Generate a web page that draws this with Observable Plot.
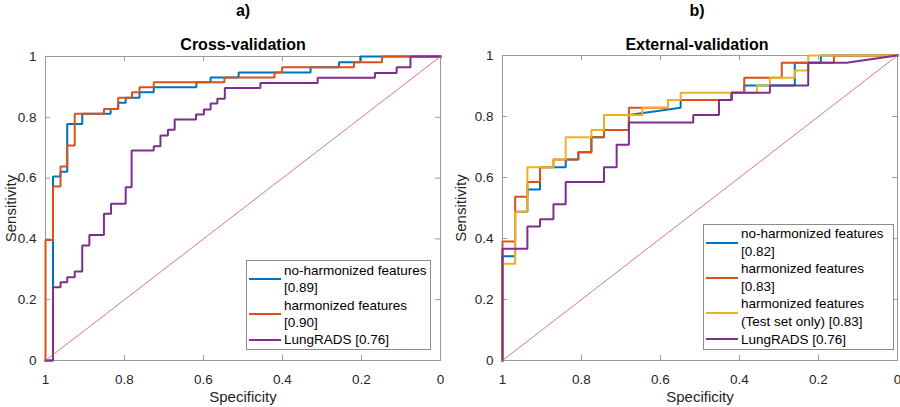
<!DOCTYPE html>
<html><head><meta charset="utf-8">
<script src="https://cdn.jsdelivr.net/npm/d3@7"></script>
<script src="https://cdn.jsdelivr.net/npm/@observablehq/plot@0.6"></script>
<style>
body{margin:0;background:#fff;font-family:"Liberation Sans",Arial,sans-serif;}
#wrap{position:relative;width:900px;height:407px;overflow:hidden;background:#fff}
.panel{position:absolute;top:0}
.ttl{position:absolute;font-weight:bold;color:#000;white-space:nowrap;transform:translateX(-50%);line-height:20px}
.legend{position:absolute;background:#fff;border:1px solid #8c8c8c;box-sizing:border-box;font-size:13.5px;color:#000}
.row{display:flex;align-items:center}
.sw{width:32px;height:2px;margin-left:2px;margin-right:3px;flex:none}
.txt{white-space:nowrap}
</style></head>
<body><div id="wrap"></div>
<script>
// ---- data ----
const tickVals = [0, 0.2, 0.4, 0.6, 0.8, 1];
const diagFpr = [0, 1];
const colors = ["#0072BD", "#D95319", "#EDB120", "#7E2F8E"];

// a) Cross-validation (false positive rate = 1 - specificity, true positive rate = sensitivity)
const cvNoHarmFpr = [0,0.019,0.019,0.038,0.038,0.055,0.055,0.093,0.093,0.165,0.165,0.184,0.184,0.203,0.203,0.238,0.238,0.274,0.274,0.382,0.382,0.418,0.418,0.489,0.489,0.671,0.671,0.743,0.743,0.797,0.797,1];
const cvNoHarmTpr = [0,0,0.605,0.605,0.621,0.621,0.778,0.778,0.812,0.812,0.827,0.827,0.848,0.848,0.864,0.864,0.882,0.882,0.899,0.899,0.915,0.915,0.931,0.931,0.947,0.947,0.965,0.965,0.981,0.981,1,1];
const cvHarmFpr = [0,0,0.019,0.019,0.038,0.038,0.055,0.055,0.074,0.074,0.148,0.148,0.184,0.184,0.219,0.219,0.238,0.238,0.274,0.274,0.453,0.453,0.58,0.58,0.599,0.599,0.781,0.781,0.852,0.852,1];
const cvHarmTpr = [0,0.396,0.396,0.572,0.572,0.638,0.638,0.707,0.707,0.812,0.812,0.827,0.827,0.864,0.864,0.882,0.882,0.899,0.899,0.915,0.915,0.931,0.931,0.947,0.947,0.965,0.965,0.981,0.981,1,1];
const cvLungFpr = [0,0.019,0.019,0.038,0.038,0.055,0.055,0.074,0.074,0.093,0.093,0.111,0.111,0.148,0.148,0.166,0.166,0.203,0.203,0.218,0.218,0.274,0.274,0.291,0.291,0.31,0.31,0.327,0.327,0.381,0.381,0.401,0.401,0.418,0.418,0.435,0.435,0.454,0.454,0.544,0.544,0.689,0.689,0.834,0.834,0.889,0.889,0.924,0.924,1];
const cvLungTpr = [0,0,0.241,0.241,0.257,0.257,0.274,0.274,0.293,0.293,0.378,0.378,0.413,0.413,0.483,0.483,0.516,0.516,0.57,0.57,0.691,0.691,0.705,0.705,0.74,0.74,0.759,0.759,0.793,0.793,0.809,0.809,0.826,0.826,0.845,0.845,0.861,0.861,0.896,0.896,0.913,0.913,0.93,0.93,0.946,0.946,0.965,0.965,1,1];
const cvLabels = ["no-harmonized features\n[0.89]", "harmonized features\n[0.90]", "LungRADS [0.76]"];

// b) External-validation
const evNoHarmFpr = [0,0,0.032,0.032,0.063,0.063,0.095,0.095,0.16,0.16,0.192,0.192,0.225,0.225,0.257,0.257,0.32,0.32,0.451,0.451,0.58,0.58,0.612,0.612,0.74,0.74,0.806,0.806,1];
const evNoHarmTpr = [0,0.342,0.342,0.488,0.488,0.561,0.561,0.634,0.634,0.659,0.659,0.683,0.683,0.732,0.732,0.756,0.756,0.805,0.829,0.854,0.854,0.878,0.878,0.902,0.902,0.976,0.976,1,1];
const evHarmFpr = [0,0,0.032,0.032,0.063,0.063,0.095,0.095,0.129,0.129,0.192,0.192,0.225,0.225,0.257,0.257,0.32,0.32,0.419,0.419,0.58,0.58,0.612,0.612,0.707,0.707,0.839,0.839,1];
const evHarmTpr = [0,0.39,0.39,0.537,0.537,0.585,0.585,0.634,0.634,0.659,0.659,0.683,0.683,0.732,0.732,0.756,0.756,0.829,0.829,0.854,0.854,0.878,0.878,0.927,0.927,0.976,0.976,1,1];
const evTestFpr = [0,0,0.032,0.032,0.063,0.063,0.129,0.129,0.16,0.16,0.225,0.225,0.257,0.257,0.354,0.354,0.419,0.419,0.451,0.451,0.644,0.644,0.677,0.677,0.74,0.74,0.774,0.774,1];
const evTestTpr = [0,0.317,0.317,0.488,0.488,0.634,0.634,0.659,0.659,0.732,0.732,0.756,0.756,0.805,0.805,0.829,0.829,0.854,0.854,0.878,0.878,0.902,0.902,0.927,0.927,0.951,0.951,1,1];
const evLungFpr = [0,0,0.063,0.063,0.095,0.095,0.129,0.129,0.16,0.16,0.257,0.257,0.289,0.289,0.32,0.32,0.483,0.483,0.548,0.548,0.58,0.58,0.677,0.677,0.774,0.774,0.871,1];
const evLungTpr = [0,0.366,0.366,0.439,0.439,0.463,0.463,0.512,0.512,0.585,0.585,0.634,0.634,0.707,0.707,0.78,0.78,0.805,0.805,0.854,0.854,0.878,0.878,0.902,0.902,0.976,0.976,1];
const evLabels = ["no-harmonized features\n[0.82]", "harmonized features\n[0.83]", "harmonized features\n(Test set only) [0.83]", "LungRADS [0.76]"];

// ---- drawing ----
const W = 450, H = 407;
function toRows(fpr, tpr) { return fpr.map((f, i) => ({spec: 1 - f, sens: tpr[i]})); }

function panel(series, cols, m) {
  const pw = W - m.left - m.right, ph = H - m.top - m.bottom;
  const grey = "#9b9b9b";
  const marks = [
    Plot.frame({stroke: grey}),
    Plot.tickX(tickVals, {x: d => d, stroke: grey, insetTop: ph - 5}),
    Plot.tickX(tickVals, {x: d => d, stroke: grey, insetBottom: ph - 5}),
    Plot.tickY(tickVals, {y: d => d, stroke: grey, insetRight: pw - 5}),
    Plot.tickY(tickVals, {y: d => d, stroke: grey, insetLeft: pw - 5}),
    Plot.axisX({ticks: tickVals, tickSize: 0, tickPadding: 14, tickFormat: d => String(d), fontSize: 13.5, label: null}),
    Plot.axisY({ticks: tickVals, tickSize: 0, tickPadding: 9, tickFormat: d => String(d), fontSize: 13.5, label: null}),
    Plot.axisX({ticks: [], tickSize: 0, fontSize: 15, label: "Specificity", labelAnchor: "center", labelArrow: "none", labelOffset: 41}),
    Plot.axisY({ticks: [], tickSize: 0, fontSize: 15, label: "Sensitivity", labelAnchor: "center", labelArrow: "none", labelOffset: m.left - 5})
  ];
  series.forEach((s, i) => marks.push(Plot.line(toRows(s[0], s[1]), {x: "spec", y: "sens", stroke: cols[i], strokeWidth: 2, strokeLinejoin: "miter", strokeLinecap: "square"})));
  marks.push(Plot.line(diagFpr, {x: d => 1 - d, y: d => d, stroke: "#d46678", strokeWidth: 0.9}));
  return Plot.plot({
    width: W, height: H,
    marginLeft: m.left, marginRight: m.right, marginTop: m.top, marginBottom: m.bottom,
    x: {domain: [1, 0]},
    y: {domain: [0, 1]},
    style: {fontFamily: "'Liberation Sans', Arial, sans-serif", fontSize: "14px", color: "#262626", background: "transparent", overflow: "visible"},
    marks
  });
}

const wrap = document.getElementById("wrap");
function addPanel(svg, left) { svg.classList.add("panel"); svg.style.left = left + "px"; wrap.appendChild(svg); }

addPanel(panel([[cvNoHarmFpr, cvNoHarmTpr], [cvHarmFpr, cvHarmTpr], [cvLungFpr, cvLungTpr]],
  [colors[0], colors[1], colors[3]], {left: 45, right: 10, top: 56, bottom: 47}), 0);
addPanel(panel([[evNoHarmFpr, evNoHarmTpr], [evHarmFpr, evHarmTpr], [evTestFpr, evTestTpr], [evLungFpr, evLungTpr]],
  colors, {left: 52, right: 3, top: 55, bottom: 47}), 450);

function addText(txt, cx, top, size) {
  const d = document.createElement("div");
  d.className = "ttl"; d.textContent = txt;
  d.style.left = cx + "px"; d.style.top = top + "px"; d.style.fontSize = size + "px";
  wrap.appendChild(d);
}
addText("a)", 243, 1, 16);
addText("b)", 697, 1, 16);
addText("Cross-validation", 243, 35, 16);
addText("External-validation", 697, 35, 16);

function addLegend(labels, cols, box, lh) {
  const lg = document.createElement("div");
  lg.className = "legend";
  Object.assign(lg.style, {left: box.x + "px", top: box.y + "px", width: box.w + "px", height: box.h + "px", paddingTop: box.pt + "px", lineHeight: lh + "px"});
  labels.forEach((t, i) => {
    const r = document.createElement("div"); r.className = "row";
    const s = document.createElement("div"); s.className = "sw"; s.style.background = cols[i];
    const tx = document.createElement("div"); tx.className = "txt";
    t.split("\n").forEach((ln, k) => { if (k) tx.appendChild(document.createElement("br")); tx.appendChild(document.createTextNode(ln)); });
    r.appendChild(s); r.appendChild(tx); lg.appendChild(r);
  });
  wrap.appendChild(lg);
}
addLegend(cvLabels, [colors[0], colors[1], colors[3]], {x: 246, y: 260, w: 185, h: 90, pt: 1}, 17.3);
addLegend(evLabels, colors, {x: 703, y: 224, w: 191, h: 126, pt: 0}, 17.6);
</script></body></html>
